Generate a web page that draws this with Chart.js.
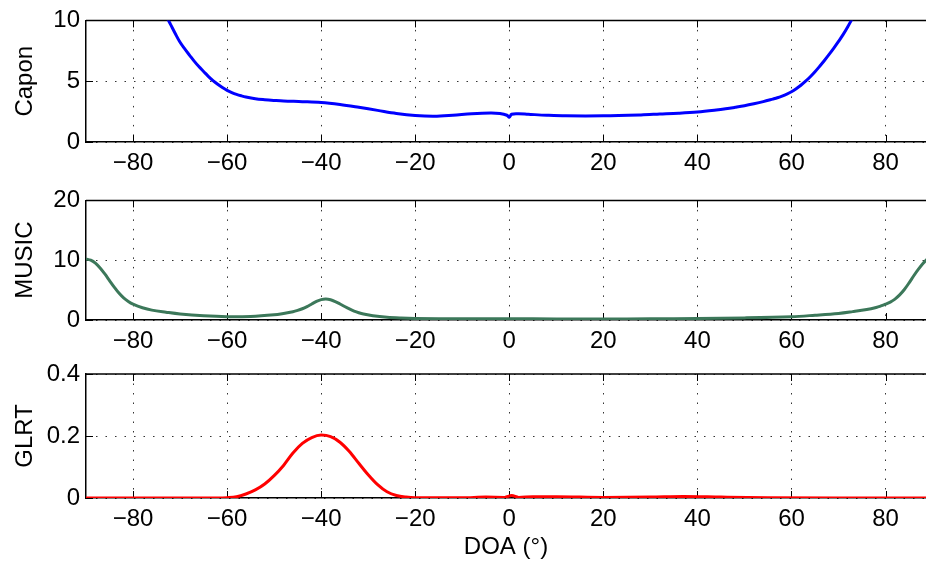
<!DOCTYPE html>
<html>
<head>
<meta charset="utf-8">
<script src="https://cdn.jsdelivr.net/npm/chart.js@4.4.0/dist/chart.umd.min.js"></script>
<style>
  body { margin: 0; background: #fff; }
  .wrap { position: relative; width: 926px; height: 565px; overflow: hidden; }
  canvas { position: absolute; left: 0; }
</style>
</head>
<body>
<div class="wrap">
  <canvas id="capon" width="926" height="190" style="top:0px"></canvas>
  <canvas id="music" width="926" height="190" style="top:180px"></canvas>
  <canvas id="glrt" width="926" height="225" style="top:340px"></canvas>
</div>
<script>
'use strict';

// x ticks shared by all three panels
const xTicks = [-80, -60, -40, -20, 0, 20, 40, 60, 80];

// Capon spectrum (values above 10 are clipped by the axis)
const caponDoa = [-80, -78, -76, -74, -73, -72, -71, -70, -69, -68, -67, -66, -65, -64, -63, -62, -61, -60, -59, -58, -57, -56, -54, -52, -50, -48, -44, -40, -36, -32, -28, -24, -20, -16, -12, -8, -4, -2, -0.5, 0, 0.5, 2, 4, 8, 12, 20, 28, 32, 36, 40, 44, 46, 48, 50, 52, 54, 56, 57, 58, 59, 60, 61, 62, 63, 64, 65, 66, 67, 68, 69, 70, 71, 72, 73, 74, 76];
const caponVal = [16.5, 14.5, 12.7, 11.2, 10.4, 9.65, 8.9, 8.2, 7.65, 7.15, 6.65, 6.2, 5.8, 5.4, 5.05, 4.75, 4.48, 4.25, 4.07, 3.92, 3.8, 3.7, 3.56, 3.48, 3.42, 3.37, 3.32, 3.25, 3.08, 2.85, 2.6, 2.35, 2.18, 2.12, 2.2, 2.32, 2.38, 2.34, 2.2, 2.03, 2.28, 2.32, 2.28, 2.2, 2.15, 2.15, 2.23, 2.3, 2.37, 2.47, 2.63, 2.73, 2.85, 2.98, 3.14, 3.32, 3.53, 3.64, 3.78, 3.94, 4.13, 4.38, 4.67, 5.0, 5.37, 5.78, 6.23, 6.7, 7.2, 7.72, 8.27, 8.85, 9.5, 10.2, 10.9, 12.4];
const caponTicks = [0, 5, 10];

// MUSIC spectrum
const musicDoa = [-90, -89, -88, -87, -86, -85, -84, -83, -82, -81, -80, -78, -76, -73, -70, -65, -60, -55, -50, -48, -46, -45, -44, -43, -42, -41, -40, -39, -38, -37, -36, -35, -34, -33, -32, -31, -29, -26, -23, -20, -10, 0, 10, 20, 30, 40, 50, 60, 65, 70, 73, 76, 78, 79, 80, 81, 82, 83, 84, 85, 86, 87, 88, 89];
const musicVal = [10.2, 10.0, 9.5, 8.7, 7.7, 6.6, 5.5, 4.5, 3.7, 3.1, 2.65, 2.05, 1.65, 1.3, 1.0, 0.7, 0.55, 0.6, 0.88, 1.1, 1.38, 1.6, 1.88, 2.25, 2.68, 3.1, 3.4, 3.5, 3.38, 3.08, 2.68, 2.25, 1.85, 1.5, 1.22, 1.0, 0.7, 0.45, 0.33, 0.27, 0.2, 0.2, 0.18, 0.18, 0.2, 0.25, 0.35, 0.55, 0.8, 1.1, 1.4, 1.75, 2.1, 2.35, 2.65, 3.0, 3.5, 4.2, 5.1, 6.2, 7.4, 8.5, 9.5, 10.3];
const musicTicks = [0, 10, 20];

// GLRT statistic
const glrtDoa = [-90, -62, -60, -58, -56, -54, -52, -50, -48, -46, -44, -42, -40, -38, -36, -34, -32, -30, -28, -26, -24, -22, -20, -10, -5, -1, 0.5, 2, 5, 10, 20, 30, 37, 45, 55, 70, 89];
const glrtVal = [0, 0, 0.001, 0.004, 0.013, 0.026, 0.045, 0.072, 0.105, 0.145, 0.176, 0.195, 0.203, 0.198, 0.18, 0.15, 0.112, 0.075, 0.043, 0.02, 0.008, 0.003, 0.001, 0.001, 0.003, 0.002, 0.008, 0.002, 0.004, 0.004, 0.002, 0.003, 0.005, 0.003, 0.001, 0, 0];
const glrtTicks = [0, 0.2, 0.4];

Chart.defaults.font.family = '"Liberation Sans", Arial, Helvetica, sans-serif';
Chart.defaults.font.size = 24;
Chart.defaults.color = '#000';

// inward tick marks and the top edge of the box, matlab style
const boxTicks = {
    id: 'boxTicks',
    beforeDatasetsDraw(chart) {
        const { ctx, chartArea: a, scales: { x, y } } = chart;
        ctx.save();
        ctx.strokeStyle = '#000';
        ctx.lineWidth = 1;
        ctx.beginPath();
        x.ticks.forEach(t => {
            const px = Math.round(x.getPixelForValue(t.value)) + 0.5;
            ctx.moveTo(px, a.bottom); ctx.lineTo(px, a.bottom - 7);
            ctx.moveTo(px, a.top); ctx.lineTo(px, a.top + 7);
        });
        y.ticks.forEach(t => {
            const py = Math.round(y.getPixelForValue(t.value)) + 0.5;
            ctx.moveTo(a.left, py); ctx.lineTo(a.left + 7, py);
        });
        ctx.stroke();
        ctx.lineWidth = 1.5;
        ctx.beginPath();
        ctx.moveTo(a.left, a.top);
        ctx.lineTo(a.right, a.top);
        ctx.stroke();
        ctx.restore();
    }
};

const makePanel = (id, doa, vals, color, yTicks, yLabel, areaTop, areaBottom, xTitle, smooth) => {
    const canvas = document.getElementById(id);
    const h = canvas.height;
    const points = doa.map((d, i) => ({ x: d, y: vals[i] }));
    return new Chart(canvas.getContext('2d'), {
        type: 'line',
        data: {
            datasets: [{
                data: points,
                borderColor: color,
                borderWidth: 3,
                pointRadius: 0,
                fill: false,
                tension: 0.35,
                cubicInterpolationMode: smooth
            }]
        },
        options: {
            responsive: false,
            animation: false,
            layout: { padding: { top: areaTop, left: 0, right: 0, bottom: 0 } },
            plugins: { legend: { display: false }, tooltip: { enabled: false } },
            scales: {
                x: {
                    type: 'linear',
                    min: -90,
                    max: 88.6,
                    afterBuildTicks: s => { s.ticks = xTicks.map(v => ({ value: v })); },
                    afterFit: s => { s.height = h - areaBottom; },
                    ticks: {
                        padding: 7,
                        callback: v => String(v).replace('-', '\u2212')
                    },
                    grid: { color: 'rgba(0,0,0,0.8)', lineWidth: 1, drawTicks: false },
                    border: { color: '#000', width: 1.5, dash: [1.5, 8] },
                    title: {
                        display: !!xTitle,
                        text: xTitle || '',
                        padding: { top: 0, bottom: 3 }
                    }
                },
                y: {
                    min: yTicks[0],
                    max: yTicks[yTicks.length - 1],
                    afterBuildTicks: s => { s.ticks = yTicks.map(v => ({ value: v })); },
                    afterFit: s => { s.width = 86; },
                    ticks: { padding: 6, callback: v => String(v) },
                    grid: { color: 'rgba(0,0,0,0.8)', lineWidth: 1, drawTicks: false },
                    border: { color: '#000', width: 1.5, dash: [1.5, 8] },
                    title: {
                        display: true,
                        text: yLabel,
                        padding: { top: 11, bottom: 0 }
                    }
                }
            }
        },
        plugins: [boxTicks]
    });
};

makePanel('capon', caponDoa, caponVal, '#0000ff', caponTicks, 'Capon', 17, 142, null, 'default');
makePanel('music', musicDoa, musicVal, '#3c785a', musicTicks, 'MUSIC', 16, 140, null, 'default');
makePanel('glrt', glrtDoa, glrtVal, '#ff0000', glrtTicks, 'GLRT', 34, 158, 'DOA (°)', 'monotone');
</script>
</body>
</html>
